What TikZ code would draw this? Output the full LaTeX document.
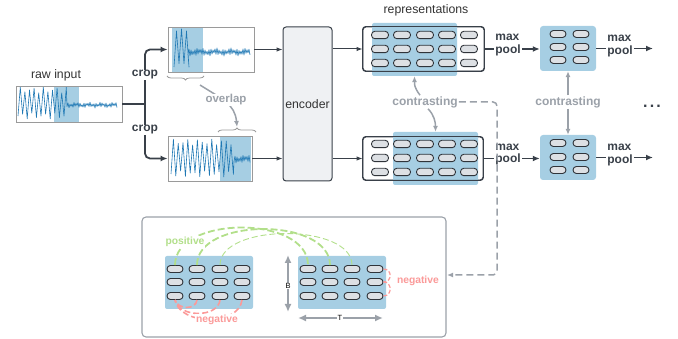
\documentclass[tikz,border=0pt]{standalone}
\usepackage{fontspec}
\setmainfont{Liberation Sans}
\usetikzlibrary{arrows.meta,decorations.pathreplacing}
\definecolor{dkc}{HTML}{394049}
\definecolor{txtc}{HTML}{333333}
\definecolor{bluef}{HTML}{A6CEE3}
\definecolor{wavec}{HTML}{1F78B4}
\definecolor{grayc}{HTML}{9BA1A9}
\definecolor{greenc}{HTML}{B2DF8A}
\definecolor{pinkc}{HTML}{FB9A99}
\definecolor{pillf}{HTML}{DDE0E4}
\definecolor{pillb}{HTML}{30343A}
\definecolor{encf}{HTML}{EFF1F3}
\definecolor{boxb}{HTML}{9A9A9A}
\begin{document}
\begin{tikzpicture}[x=1pt,y=-1pt,
  pill/.style={draw=pillb, fill=pillf, line width=0.9pt, rounded corners=3.4pt, minimum width=17pt, minimum height=7.4pt, inner sep=0pt},
  spill/.style={pill, minimum width=16pt, minimum height=7pt},
  sigbox/.style={draw=boxb, line width=0.8pt, inner sep=0pt},
  wave/.style={draw=wavec, line width=0.6pt, line join=round},
  hl/.style={fill=bluef, inner sep=0pt, rounded corners=2pt},
  darr/.style={draw=dkc, line width=1.8pt, -{Latex[length=7pt,width=6pt]}},
  tarr/.style={draw=dkc, line width=1pt, -{Latex[length=6pt,width=4.5pt]}},
  garr/.style={draw=grayc, line width=1.5pt, -{Latex[length=6pt,width=5pt]}},
  dimarr/.style={draw=grayc, line width=2pt, {Latex[length=8pt,width=7pt]}-{Latex[length=8pt,width=7pt]}},
  boldlbl/.style={font=\bfseries\fontsize{12}{12.5}\selectfont, text=dkc, fill=white, inner sep=1pt, align=left},
  plainlbl/.style={font=\fontsize{12.3}{14}\selectfont, text=txtc},
  glbl/.style={font=\bfseries\fontsize{12}{13}\selectfont, text=grayc, fill=white, inner sep=1pt},
  panellbl/.style={font=\bfseries\fontsize{10.3}{12}\selectfont, fill=white, inner sep=0.8pt},
  repbox/.style={draw=dkc, line width=0.9pt, rounded corners=3pt, inner sep=0pt},
]
\useasboundingbox (0,0) rectangle (678,339);

% ---------------- raw input ----------------
\node[plainlbl] (rawlbl) at (56,75) {raw input};
\fill[bluef] (54,86) rectangle (79,122);
\draw[wave] plot[domain=0:48.3, samples=22] ({18+\x},{103+(13+3*sin(\x*47))*cos(\x*78.26)})
  -- plot[domain=0:50, samples=51] ({67+\x},{105+(1.6+0.8*sin(\x*67))*cos(\x*180)+0.6*sin(\x*29)});
\node[sigbox, minimum width=106pt, minimum height=36pt] (raw) at (69,104) {};

% ---------------- crop 1 ----------------
\fill[bluef] (172,27) rectangle (203,72);
\draw[wave] plot[domain=0:15, samples=7] ({174+\x},{50+(17+4*sin(\x*60))*cos(\x*72)})
  -- plot[domain=0:62, samples=63] ({188+\x},{52+(2.4+1*sin(\x*53))*cos(\x*180)+0.8*sin(\x*23)});
\node[sigbox, minimum width=86pt, minimum height=45pt] (crop1) at (211,49.5) {};

% ---------------- crop 2 ----------------
\fill[bluef] (220,136) rectangle (251,181);
\draw[wave] plot[domain=0:62.4, samples=27] ({171+\x},{158+(16+3*sin(\x*29))*cos(\x*75)})
  -- plot[domain=0:16, samples=17] ({234+\x},{159+(2.4+1*sin(\x*53))*cos(\x*180)+0.8*sin(\x*23)});
\node[sigbox, minimum width=84pt, minimum height=45pt] (crop2) at (210,158.5) {};

% braces and overlap
\draw[boxb, line width=0.8pt, decorate, decoration={brace, amplitude=4pt, mirror}] (167,76) -- (204,76);
\draw[boxb, line width=0.8pt, decorate, decoration={brace, amplitude=4pt}] (218,132) -- (256,132);
\coordinate (ov1) at (200,85);
\coordinate (ov2) at (237,127);
\draw[garr] (ov1) .. controls (222,99) and (235,104) .. (ov2);
\node[glbl, font=\bfseries\fontsize{11.5}{13}\selectfont] (ovl) at (226,100) {overlap};

% crop connectors
\coordinate (split) at (145,104);
\draw[dkc, line width=1.8pt] (raw.east) -- (split);
\draw[darr, rounded corners=5pt] (split) |- (crop1.west);
\draw[darr, rounded corners=5pt] (split) |- (crop2.west);
\node[boldlbl] (cropa) at (145,75) {crop};
\node[boldlbl] (cropb) at (145,130) {crop};

% ---------------- encoder ----------------
\node[draw=dkc, fill=encf, line width=1pt, rounded corners=3pt, minimum width=49pt, minimum height=154pt, inner sep=0pt, font=\fontsize{12.3}{14}\selectfont, text=txtc] (enc) at (307.5,104) {encoder};
\draw[tarr] (crop1.east) -- (crop1.east -| enc.west);
\draw[tarr] (crop2.east) -- (crop2.east -| enc.west);

% ---------------- representations ----------------
\node[plainlbl] (replbl) at (426,10) {representations};
\node[repbox, fill=white, minimum width=121pt, minimum height=44pt] (rep1) at (423.5,49) {};
\node[hl, minimum width=85pt, minimum height=53pt] (b1) at (414.5,49.5) {};
\draw[repbox] (rep1.south west) rectangle (rep1.north east);
\foreach \c [count=\i] in {380,402,425,447,469}
  \foreach \r [count=\j] in {35,49,63}
    \node[pill] (ra-\i-\j) at (\c,\r) {};

\node[repbox, fill=white, minimum width=120pt, minimum height=43pt] (rep2) at (423,158.5) {};
\node[hl, minimum width=85pt, minimum height=53pt] (b2) at (435.5,158.5) {};
\draw[repbox] (rep2.south west) rectangle (rep2.north east);
\foreach \c [count=\i] in {380,402,425,447,469}
  \foreach \r [count=\j] in {144,158,172}
    \node[pill] (rb-\i-\j) at (\c,\r) {};

\draw[tarr] (enc.east |- rep1.west) -- (rep1.west);
\draw[tarr] (enc.east |- rep2.west) -- (rep2.west);

% contrasting between representations
\node[glbl] (c1) at (425,102) {contrasting};
\draw[garr] ([xshift=-5pt]c1.north) .. controls +(-6,-8) and +(0,8) .. (b1.south);
\draw[garr] ([xshift=3pt]c1.south) .. controls +(6,6) and +(0,-10) .. (b2.north);

% ---------------- pooled boxes ----------------
\node[hl, rounded corners=3pt, minimum width=56pt, minimum height=45pt] (sm1) at (568,48.5) {};
\node[hl, rounded corners=3pt, minimum width=56pt, minimum height=45pt] (sm2) at (568,157.5) {};
\foreach \c [count=\i] in {558,581}{
  \foreach \r [count=\j] in {34,47,60}
    \node[spill] (sa-\i-\j) at (\c,\r) {};
  \foreach \r [count=\j] in {143,157,170}
    \node[spill] (sb-\i-\j) at (\c,\r) {};
}

\draw[darr] (rep1.east) -- (rep1.east -| sm1.west);
\draw[darr] (rep2.east) -- (rep2.east -| sm2.west);
\node[boldlbl] (mp1) at (508,45) {max\\pool};
\node[boldlbl] (mp2) at (508,154.5) {max\\pool};

\coordinate (out1) at (653,48.5);
\coordinate (out2) at (653,157.5);
\draw[darr] (sm1.east) -- (out1);
\draw[darr] (sm2.east) -- (out2);
\node[boldlbl] (mp3) at (620,46) {max\\pool};
\node[boldlbl] (mp4) at (620,155) {max\\pool};

\node[glbl] (c2) at (568,102) {contrasting};
\draw[garr] (c2.north) -- (sm1.south);
\draw[garr] (c2.south) -- (sm2.north);

\node[font=\bfseries\fontsize{16}{16}\selectfont, text=dkc, anchor=base] (dots) at (652,108) {.\hspace{2.2pt}.\hspace{2.2pt}.};

% ---------------- detail panel ----------------
\node[draw=grayc, line width=1.1pt, rounded corners=4pt, minimum width=304pt, minimum height=120pt, inner sep=0pt] (panel) at (294,277) {};
\coordinate (pe) at (447,275);
\coordinate (dc) at (497,200);
\draw[draw=grayc, line width=1.5pt, dash pattern=on 7pt off 4pt, rounded corners=4pt, -{Latex[length=6pt,width=5pt]}] (c1.east) -| (dc) |- (pe);

\node[hl, minimum width=88pt, minimum height=53pt] (g1) at (209,282.5) {};
\node[hl, minimum width=88pt, minimum height=53pt] (g2) at (342,282.5) {};
\foreach \c [count=\i] in {175,197,220,242}
  \foreach \r [count=\j] in {269,282,296}
    \node[spill] (ga-\i-\j) at (\c,\r) {};
\foreach \c [count=\i] in {308,330,352,375}
  \foreach \r [count=\j] in {269,282,296}
    \node[spill] (gb-\i-\j) at (\c,\r) {};

% positive arcs
\draw[greenc, line width=1.8pt, dash pattern=on 7pt off 3pt] (ga-1-1.north) .. controls +(0,-50) and +(0,-50) .. (gb-1-1.north);
\draw[greenc, line width=1.8pt, dash pattern=on 7pt off 3pt] (ga-2-1.north) .. controls +(0,-48) and +(0,-48) .. (gb-2-1.north);
\draw[greenc, line width=0.9pt, dash pattern=on 6pt off 3pt] (ga-3-1.north) .. controls +(0,-42) and +(0,-42) .. (gb-3-1.north);
\node[panellbl, text=greenc] (pos) at (185,242) {positive};

% negative arcs (left grid)
\draw[pinkc, line width=1.6pt, dash pattern=on 6pt off 3pt] (ga-2-3.south) .. controls +(-1,10) and +(3,10) .. (ga-1-3.south);
\draw[pinkc, line width=1.6pt, dash pattern=on 6pt off 3pt] (ga-3-3.south) .. controls +(-2,18) and +(4,18) .. (ga-1-3.south);
\draw[pinkc, line width=1.6pt, dash pattern=on 6pt off 3pt] (ga-4-3.south) .. controls +(-3,26) and +(5,26) .. (ga-1-3.south);
\node[panellbl, text=pinkc] (neg1) at (217,320) {negative};

% negative arcs (right grid)
\draw[pinkc, line width=1.2pt, dash pattern=on 4pt off 2pt] (gb-4-1.east) .. controls +(9,0) and +(9,0) .. (gb-4-2.east);
\draw[pinkc, line width=1.2pt, dash pattern=on 4pt off 2pt] (gb-4-3.east) .. controls +(9,0) and +(9,0) .. (gb-4-2.east);
\node[panellbl, text=pinkc, anchor=west] (neg2) at (396,281) {negative};

% B and T
\coordinate (bt) at (288,255);
\coordinate (bb) at (288,312);
\coordinate (tl) at (298,318);
\coordinate (tr) at (383,318);
\draw[dimarr] (bt) -- (bb);
\draw[dimarr] (tl) -- (tr);
\node[font=\fontsize{7.5}{8}\selectfont, fill=white, inner sep=0.6pt] (blbl) at (288,286) {B};
\node[font=\fontsize{7.5}{8}\selectfont, fill=white, inner sep=0.6pt] (tlbl) at (340,318) {T};
\end{tikzpicture}
\end{document}
